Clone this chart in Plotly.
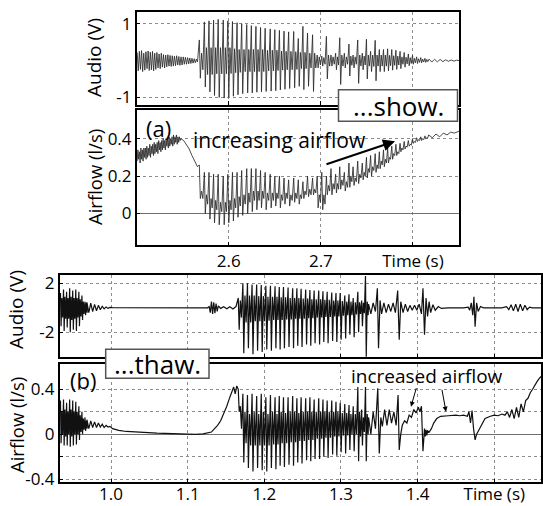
import numpy as np
import plotly.graph_objects as go

FONT = "Open Sans"
W, H = 543, 506

# ---------------- Panel (a): "...show." ----------------
a_time_range = [2.5, 2.85]
a_xtick_vals = [2.6, 2.7, 2.8]
a_xtick_text = ["2.6", "2.7", "Time (s)"]

# glottal pulse instants (s)
a_pulse_t = [2.568, 2.5735, 2.5785, 2.5835, 2.5885, 2.594, 2.599, 2.604, 2.609, 2.614,
             2.6195, 2.6245, 2.6295, 2.6345, 2.6395, 2.645, 2.650, 2.655, 2.660, 2.665,
             2.6705, 2.6755, 2.6805, 2.6855, 2.691, 2.696, 2.701, 2.706, 2.711, 2.716,
             2.7205, 2.7255, 2.7305, 2.735, 2.740, 2.745, 2.7495, 2.754, 2.759, 2.7635,
             2.768, 2.7725, 2.777, 2.7815, 2.786, 2.7905, 2.795, 2.7995, 2.804, 2.8085, 2.813]

# audio (V): pre-voicing noise, per-pulse peaks, tail
a_audio_noise = [0.22, -0.28, 0.25, -0.24, 0.27, -0.3, 0.2, -0.26, 0.24, -0.22,
                 0.26, -0.27, 0.23, -0.25, 0.25, -0.28, 0.2, -0.24, 0.22, -0.2,
                 0.18, -0.22, 0.2, -0.18, 0.16, -0.2, 0.15, -0.17, 0.16, -0.15,
                 0.14, -0.16, 0.13, -0.15, 0.12, -0.14, 0.13, -0.12, 0.11, -0.13,
                 0.1, -0.12, 0.1, -0.1, 0.09, -0.1, 0.08, -0.09, 0.07, -0.08,
                 0.06, -0.07, 0.05, -0.06, 0.04, -0.04]
a_audio_noise_span = [2.5005, 2.566]
a_audio_hi = [0.56, 1.05, 1.08, 1.1, 1.12, 1.1, 1.08, 1.06, 1.03, 1.0,
              0.98, 0.95, 0.93, 0.9, 0.88, 0.86, 0.84, 0.82, 0.8, 0.78,
              0.79, 0.6, 0.93, 0.75, 0.7,
              0.15, 0.12, 0.66, 0.15, 0.2, 0.62, 0.2, 0.45, 0.15, 0.56,
              0.2, 0.58, 0.25, 0.55, 0.3, 0.3, 0.32, 0.3, 0.28, 0.25,
              0.22, 0.18, 0.14, 0.1, 0.08, 0.06]
a_audio_lo = [-0.48, -0.72, -0.85, -0.95, -1.0, -1.02, -1.0, -0.97, -0.93, -0.9,
              -0.88, -0.88, -0.86, -0.85, -0.84, -0.83, -0.82, -0.8, -0.78, -0.76,
              -0.74, -0.7, -0.79, -0.7, -0.84,
              -0.2, -0.15, -0.5, -0.15, -0.25, -0.65, -0.2, -0.42, -0.2, -0.62,
              -0.25, -0.5, -0.3, -0.55, -0.3, -0.3, -0.28, -0.26, -0.24, -0.22,
              -0.18, -0.14, -0.1, -0.08, -0.06, -0.05]
a_audio_r1 = [0.2, 0.35, 0.35, 0.35, 0.35, 0.35, 0.35, 0.32, 0.3, 0.3,
              0.3, 0.3, 0.3, 0.3, 0.28, 0.28, 0.28, 0.26, 0.25, 0.25,
              0.24, 0.22, 0.22, 0.2, 0.2,
              0.1, 0.08, 0.15, 0.1, 0.1, 0.15, 0.1, 0.12, 0.1, 0.15,
              0.12, 0.15, 0.15, 0.15, 0.15, 0.15, 0.14, 0.13, 0.12, 0.1,
              0.09, 0.08, 0.06, 0.05, 0.04, 0.03]
a_audio_r2 = [-0.25, -0.38, -0.38, -0.36, -0.36, -0.36, -0.35, -0.33, -0.32, -0.3,
              -0.3, -0.3, -0.3, -0.3, -0.28, -0.28, -0.27, -0.26, -0.25, -0.25,
              -0.24, -0.22, -0.22, -0.2, -0.2,
              -0.12, -0.1, -0.15, -0.1, -0.12, -0.15, -0.1, -0.13, -0.1, -0.15,
              -0.12, -0.15, -0.16, -0.15, -0.15, -0.15, -0.14, -0.13, -0.12, -0.1,
              -0.09, -0.08, -0.06, -0.05, -0.04, -0.03]
a_audio_tail_t = [2.8175, 2.8205, 2.8235, 2.8265, 2.8295, 2.8325, 2.8355, 2.8385, 2.8415, 2.8445, 2.8475, 2.85]
a_audio_tail_v = [0.04, -0.04, 0.035, -0.035, 0.03, -0.03, 0.02, -0.02, 0.015, -0.015, 0.01, 0.0]

# airflow (l/s)
a_flow_noise = [0.28, 0.34, 0.29, 0.33, 0.27, 0.35, 0.29, 0.34, 0.28, 0.35,
                0.30, 0.35, 0.29, 0.36, 0.30, 0.35, 0.31, 0.37, 0.30, 0.36,
                0.32, 0.37, 0.31, 0.38, 0.32, 0.37, 0.33, 0.38, 0.32, 0.39,
                0.34, 0.38, 0.33, 0.39, 0.34, 0.40, 0.35, 0.39, 0.34, 0.40,
                0.36, 0.40, 0.35, 0.41, 0.36, 0.40, 0.37, 0.41, 0.36, 0.42,
                0.37, 0.41, 0.38, 0.42, 0.37, 0.41, 0.38, 0.41, 0.39, 0.40]
a_flow_noise_span = [2.5005, 2.548]
a_flow_fall_t = [2.551, 2.554, 2.557, 2.560, 2.563, 2.566]
a_flow_fall_v = [0.39, 0.37, 0.345, 0.31, 0.28, 0.25]
a_flow_hi = [0.26, 0.22, 0.22, 0.21, 0.21, 0.2, 0.21, 0.22, 0.22, 0.23,
             0.24, 0.24, 0.24, 0.23, 0.22, 0.21, 0.2, 0.2, 0.19, 0.18,
             0.19, 0.18, 0.17, 0.2, 0.19,
             0.2, 0.22, 0.2, 0.24, 0.21, 0.25, 0.22, 0.27, 0.25, 0.28,
             0.27, 0.3, 0.31, 0.32, 0.33, 0.34, 0.35, 0.36, 0.37, 0.375,
             0.385, 0.39, 0.4, 0.405, 0.41, 0.415]
a_flow_lo = [0.08, 0.0, -0.03, -0.05, -0.06, -0.06, -0.05, -0.04, -0.02, -0.01,
             0.0, 0.01, 0.02, 0.03, 0.02, 0.03, 0.04, 0.03, 0.05, 0.04,
             0.06, 0.05, 0.08, 0.09, 0.1,
             0.03, 0.02, 0.1, 0.1, 0.11, 0.13, 0.12, 0.14, 0.15, 0.16,
             0.18, 0.19, 0.2, 0.22, 0.24, 0.25, 0.27, 0.29, 0.31, 0.33,
             0.345, 0.36, 0.375, 0.385, 0.39, 0.4]
a_flow_r1 = [0.12, 0.1, 0.08, 0.07, 0.06, 0.06, 0.07, 0.08, 0.09, 0.1,
             0.11, 0.12, 0.12, 0.12, 0.11, 0.11, 0.11, 0.1, 0.11, 0.1,
             0.11, 0.1, 0.12, 0.13, 0.13,
             0.1, 0.1, 0.15, 0.16, 0.16, 0.18, 0.17, 0.2, 0.19, 0.21,
             0.22, 0.24, 0.25, 0.26, 0.28, 0.29, 0.3, 0.32, 0.33, 0.35,
             0.36, 0.37, 0.385, 0.395, 0.4, 0.405]
a_flow_r2 = [0.08, 0.05, 0.03, 0.02, 0.01, 0.01, 0.02, 0.03, 0.04, 0.05,
             0.06, 0.07, 0.07, 0.08, 0.07, 0.07, 0.08, 0.07, 0.08, 0.07,
             0.08, 0.08, 0.1, 0.1, 0.11,
             0.06, 0.05, 0.12, 0.13, 0.13, 0.15, 0.14, 0.17, 0.17, 0.19,
             0.2, 0.22, 0.23, 0.24, 0.26, 0.27, 0.29, 0.31, 0.32, 0.34,
             0.355, 0.365, 0.38, 0.39, 0.395, 0.405]
a_flow_tail_t = [2.817, 2.821, 2.825, 2.829, 2.833, 2.837, 2.841, 2.845, 2.85]
a_flow_tail_v = [0.42, 0.405, 0.425, 0.41, 0.43, 0.42, 0.435, 0.43, 0.44]

# ---------------- Panel (b): "...thaw." ----------------
b_time_range = [0.933, 1.561]
b_xtick_vals = [1.0, 1.1, 1.2, 1.3, 1.4, 1.5]
b_xtick_text = ["1.0", "1.1", "1.2", "1.3", "1.4", "Time (s)"]

b_pre_pulse_t = [0.934, 0.938, 0.942, 0.946, 0.950, 0.954, 0.958, 0.962, 0.966]
b_audio_pre_hi = [1.2, 1.5, 1.3, 1.6, 1.4, 1.5, 1.3, 1.0, 0.5]
b_audio_pre_lo = [-1.5, -1.9, -1.6, -2.0, -1.8, -1.9, -1.5, -1.0, -0.6]
b_audio_pre_r1 = [0.8, 0.9, 0.8, 0.9, 0.8, 0.8, 0.7, 0.5, 0.4]
b_audio_pre_r2 = [-0.8, -0.9, -0.9, -1.0, -0.9, -0.8, -0.7, -0.5, -0.4]
b_flow_pre_hi = [0.3, 0.31, 0.28, 0.31, 0.3, 0.29, 0.25, 0.2, 0.15]
b_flow_pre_lo = [-0.08, -0.1, -0.1, -0.11, -0.1, -0.09, -0.05, 0.0, 0.03]
b_flow_pre_r1 = [0.2, 0.22, 0.2, 0.22, 0.2, 0.2, 0.17, 0.14, 0.12]
b_flow_pre_r2 = [0.0, -0.02, 0.0, -0.02, 0.0, 0.0, 0.02, 0.04, 0.05]

b_ring_span = [0.9685, 0.9985]
b_audio_ring = [0.45, -0.4, 0.38, -0.32, 0.28, -0.24, 0.2, -0.16, 0.12, -0.09, 0.07, -0.05, 0.03]
b_flow_ring = [0.13, 0.05, 0.12, 0.06, 0.11, 0.06, 0.1, 0.065, 0.09, 0.06, 0.08, 0.065, 0.07]

b_audio_gap_t = [1.002, 1.05, 1.1, 1.126, 1.128, 1.1295, 1.131, 1.1325, 1.134, 1.1355,
                 1.137, 1.1385, 1.140, 1.143, 1.147, 1.151, 1.155, 1.159, 1.163]
b_audio_gap_v = [0.02, 0.0, 0.0, 0.0, 0.1, -0.4, 0.5, -0.5, 0.45, -0.45,
                 0.35, -0.3, 0.15, -0.05, 0.08, -0.08, 0.08, -0.1, 0.1]
b_flow_gap_t = [1.002, 1.01, 1.02, 1.03, 1.04, 1.05, 1.06, 1.07, 1.08, 1.09, 1.1, 1.11, 1.12, 1.127,
                1.131, 1.135, 1.139, 1.143, 1.147, 1.151, 1.155, 1.158, 1.160, 1.162, 1.164]
b_flow_gap_v = [0.05, 0.035, 0.025, 0.02, 0.015, 0.012, 0.01, 0.008, 0.005, 0.0, -0.002, 0.0, 0.003, 0.01,
                0.02, 0.05, 0.08, 0.12, 0.18, 0.25, 0.33, 0.39, 0.42, 0.36, 0.43]

b_pulse_t = [1.166, 1.172, 1.178, 1.184, 1.190, 1.196, 1.202, 1.208, 1.214, 1.2195,
             1.225, 1.231, 1.237, 1.2425, 1.248, 1.254, 1.2595, 1.265, 1.271, 1.2765,
             1.282, 1.288, 1.2935, 1.299, 1.305, 1.3105, 1.316, 1.322, 1.327, 1.332]
b_audio_hi = [0.8, 2.0, 2.0, 1.9, 1.9, 1.85, 1.8, 1.8, 1.75, 1.7,
              1.7, 1.65, 1.6, 1.6, 1.55, 1.5, 1.45, 1.4, 1.4, 1.35,
              1.3, 1.25, 1.2, 1.2, 1.0, 1.1, 0.8, 1.3, 0.6, 2.6]
b_audio_lo = [-1.8, -3.7, -3.3, -3.8, -3.5, -3.6, -3.4, -3.5, -3.3, -3.4,
              -3.3, -3.2, -3.3, -3.1, -3.2, -3.0, -3.1, -2.9, -3.0, -2.8,
              -2.9, -2.7, -2.8, -2.6, -2.5, -2.2, -2.4, -2.0, -1.5, -4.0]
b_audio_r1 = [0.6, 1.0, 1.0, 1.0, 0.95, 0.95, 0.9, 0.9, 0.9, 0.85,
              0.85, 0.8, 0.8, 0.8, 0.75, 0.75, 0.7, 0.7, 0.7, 0.65,
              0.65, 0.6, 0.6, 0.55, 0.5, 0.5, 0.45, 0.45, 0.4, 0.5]
b_audio_r2 = [-0.8, -1.2, -1.2, -1.1, -1.1, -1.1, -1.05, -1.0, -1.0, -1.0,
              -0.95, -0.95, -0.9, -0.9, -0.9, -0.85, -0.85, -0.8, -0.8, -0.75,
              -0.75, -0.7, -0.7, -0.65, -0.6, -0.6, -0.55, -0.5, -0.45, -0.6]
b_flow_hi = [0.40, 0.36, 0.35, 0.36, 0.34, 0.36, 0.33, 0.35, 0.33, 0.34,
             0.33, 0.33, 0.34, 0.32, 0.33, 0.32, 0.33, 0.31, 0.32, 0.31,
             0.3, 0.3, 0.29, 0.28, 0.27, 0.26, 0.25, 0.42, 0.22, 0.42]
b_flow_lo = [0.2, -0.25, -0.3, -0.33, -0.3, -0.32, -0.33, -0.3, -0.31, -0.28,
             -0.29, -0.27, -0.28, -0.25, -0.26, -0.23, -0.24, -0.22, -0.22, -0.2,
             -0.21, -0.18, -0.19, -0.16, -0.17, -0.14, -0.15, -0.24, -0.1, -0.24]
b_flow_r1 = [0.25, 0.2, 0.18, 0.2, 0.18, 0.2, 0.18, 0.2, 0.18, 0.2,
             0.19, 0.2, 0.2, 0.19, 0.2, 0.2, 0.2, 0.2, 0.2, 0.2,
             0.2, 0.2, 0.2, 0.19, 0.19, 0.18, 0.18, 0.2, 0.15, 0.18]
b_flow_r2 = [0.05, -0.08, -0.1, -0.1, -0.1, -0.1, -0.1, -0.09, -0.09, -0.08,
             -0.08, -0.07, -0.07, -0.06, -0.06, -0.05, -0.05, -0.04, -0.04, -0.03,
             -0.03, -0.02, -0.02, -0.01, -0.01, 0.0, 0.0, -0.02, 0.02, 0.0]

b_audio_tail_t = [1.336, 1.339, 1.342, 1.345, 1.3475, 1.349, 1.351, 1.353, 1.356, 1.359,
                  1.362, 1.365, 1.368, 1.371, 1.374, 1.376, 1.378, 1.381, 1.384, 1.387,
                  1.390, 1.393, 1.396, 1.399, 1.402, 1.405, 1.407, 1.409, 1.411, 1.413,
                  1.415, 1.417, 1.420, 1.423, 1.427, 1.431, 1.44, 1.46, 1.466, 1.468,
                  1.470, 1.472, 1.4735, 1.475, 1.477, 1.479, 1.482, 1.486, 1.51, 1.516,
                  1.519, 1.522, 1.525, 1.528, 1.531, 1.534, 1.537, 1.540, 1.543, 1.546,
                  1.55, 1.562]
b_audio_tail_v = [0.3, -0.5, 0.4, -0.3, 1.6, -3.3, 0.6, -0.5, 0.4, -0.4,
                  0.3, -0.3, 0.4, -0.4, 1.4, -2.6, 0.5, -0.4, 0.3, -0.3,
                  0.2, -0.2, 0.2, -0.2, 0.3, -0.5, 1.6, -2.2, 0.8, -0.7,
                  0.5, -0.4, 0.25, -0.2, 0.1, -0.05, 0.0, 0.0, 0.05, -0.2,
                  0.4, -0.6, 0.9, -1.55, 0.4, -0.3, 0.1, 0.0, 0.0, 0.1,
                  -0.15, 0.25, -0.25, 0.3, -0.3, 0.3, -0.25, 0.2, -0.15, 0.05,
                  0.0, 0.0]
b_flow_tail_t = [1.336, 1.339, 1.342, 1.345, 1.348, 1.350, 1.352, 1.354, 1.357, 1.360,
                 1.363, 1.366, 1.369, 1.372, 1.3745, 1.376, 1.378, 1.380, 1.383, 1.386,
                 1.389, 1.392, 1.395, 1.398, 1.401, 1.403, 1.405, 1.407, 1.409, 1.410,
                 1.411, 1.412, 1.413, 1.415, 1.418, 1.421, 1.425, 1.43, 1.44, 1.45,
                 1.455, 1.46, 1.465, 1.467, 1.469, 1.471, 1.473, 1.475, 1.477, 1.48,
                 1.484, 1.488, 1.495, 1.5, 1.505, 1.51, 1.514, 1.517, 1.52, 1.523,
                 1.526, 1.529, 1.532, 1.535, 1.538, 1.541, 1.544, 1.547, 1.55, 1.553,
                 1.556, 1.559, 1.562]
b_flow_tail_v = [0.15, 0.0, 0.2, 0.05, 0.41, -0.17, 0.15, 0.07, 0.22, 0.08,
                 0.22, 0.1, 0.2, 0.08, 0.35, -0.14, 0.0, 0.08, 0.12, 0.1,
                 0.17, 0.15, 0.22, 0.19, 0.24, 0.2, 0.25, -0.15, 0.05, -0.02,
                 0.04, -0.01, 0.03, 0.02, 0.05, 0.1, 0.14, 0.16, 0.165, 0.17,
                 0.165, 0.17, 0.16, 0.2, 0.1, 0.21, 0.05, -0.05, 0.0, 0.04,
                 0.1, 0.14, 0.16, 0.17, 0.165, 0.18, 0.17, 0.2, 0.15, 0.22,
                 0.14, 0.24, 0.15, 0.27, 0.2, 0.3, 0.32, 0.37, 0.4, 0.44,
                 0.47, 0.5, 0.52]


# ---------------- helpers ----------------
def pulses(t, hi, lo, r1, r2):
    xs, ys = [], []
    for i in range(len(t)):
        p = t[i + 1] - t[i] if i + 1 < len(t) else t[i] - t[i - 1]
        xs += [t[i], t[i] + 0.2 * p, t[i] + 0.45 * p, t[i] + 0.7 * p]
        ys += [hi[i], lo[i], r1[i], r2[i]]
    return xs, ys


def samples(span, vals):
    return list(np.linspace(span[0], span[1], len(vals))), list(vals)


def join(*parts):
    xs, ys = [], []
    for px_, py_ in parts:
        xs += list(px_)
        ys += list(py_)
    return xs, ys


a_audio_x, a_audio_y = join(samples(a_audio_noise_span, a_audio_noise),
                            pulses(a_pulse_t, a_audio_hi, a_audio_lo, a_audio_r1, a_audio_r2),
                            (a_audio_tail_t, a_audio_tail_v))
a_flow_x, a_flow_y = join(samples(a_flow_noise_span, a_flow_noise),
                          (a_flow_fall_t, a_flow_fall_v),
                          pulses(a_pulse_t, a_flow_hi, a_flow_lo, a_flow_r1, a_flow_r2),
                          (a_flow_tail_t, a_flow_tail_v))
b_audio_x, b_audio_y = join(pulses(b_pre_pulse_t, b_audio_pre_hi, b_audio_pre_lo, b_audio_pre_r1, b_audio_pre_r2),
                            samples(b_ring_span, b_audio_ring),
                            (b_audio_gap_t, b_audio_gap_v),
                            pulses(b_pulse_t, b_audio_hi, b_audio_lo, b_audio_r1, b_audio_r2),
                            (b_audio_tail_t, b_audio_tail_v))
b_flow_x, b_flow_y = join(pulses(b_pre_pulse_t, b_flow_pre_hi, b_flow_pre_lo, b_flow_pre_r1, b_flow_pre_r2),
                          samples(b_ring_span, b_flow_ring),
                          (b_flow_gap_t, b_flow_gap_v),
                          pulses(b_pulse_t, b_flow_hi, b_flow_lo, b_flow_r1, b_flow_r2),
                          (b_flow_tail_t, b_flow_tail_v))


def PX(x):
    return x / W


def PY(y):
    return 1 - y / H


fig = go.Figure()
line_a = dict(color="#2a2a2a", width=0.85)
line_b = dict(color="#111111", width=1.2)
fig.add_trace(go.Scatter(x=a_audio_x, y=a_audio_y, mode="lines", line=line_a, xaxis="x", yaxis="y"))
fig.add_trace(go.Scatter(x=a_flow_x, y=a_flow_y, mode="lines", line=line_a, xaxis="x2", yaxis="y2"))
fig.add_trace(go.Scatter(x=b_audio_x, y=b_audio_y, mode="lines", line=line_b, xaxis="x3", yaxis="y3"))
fig.add_trace(go.Scatter(x=b_flow_x, y=b_flow_y, mode="lines", line=line_b, xaxis="x4", yaxis="y4"))

tickfont = dict(family=FONT, size=17, color="black")
base = dict(showline=True, linecolor="black", linewidth=1.5, mirror=True,
            showgrid=True, gridcolor="#8c8c8c", griddash="dot", gridwidth=1,
            zeroline=False, ticks="inside", ticklen=4, tickcolor="black",
            tickfont=tickfont, fixedrange=True, automargin=False)

xa = [136.7 / W, 459 / W]
xb = [59.7 / W, 541 / W]

fig.update_layout(
    width=W, height=H, margin=dict(l=0, r=0, t=0, b=0, pad=0, autoexpand=False),
    paper_bgcolor="white", plot_bgcolor="white", showlegend=False,
    font=dict(family=FONT, color="black"),
    xaxis=dict(base, domain=xa, range=a_time_range, anchor="y", tickvals=a_xtick_vals, showticklabels=False),
    yaxis=dict(base, domain=[PY(104.7), PY(12)], range=[-1.2, 1.32], anchor="x",
               tickvals=[-1, 1], ticktext=["-1", "1"]),
    xaxis2=dict(base, domain=xa, range=a_time_range, anchor="y2", tickvals=a_xtick_vals, ticktext=a_xtick_text),
    yaxis2=dict(base, domain=[PY(245.3), PY(109.7)], range=[-0.17, 0.555], anchor="x2",
                tickvals=[0, 0.2, 0.4], ticktext=["0", "0.2", "0.4"],
                zeroline=True, zerolinecolor="#707070", zerolinewidth=1),
    xaxis3=dict(base, domain=xb, range=b_time_range, anchor="y3", tickvals=b_xtick_vals, showticklabels=False),
    yaxis3=dict(base, domain=[PY(357.3), PY(274.7)], range=[-4.04, 2.7], anchor="x3",
                tickvals=[-2, 2], ticktext=["-2", "2"]),
    xaxis4=dict(base, domain=xb, range=b_time_range, anchor="y4", tickvals=b_xtick_vals, ticktext=b_xtick_text),
    yaxis4=dict(base, domain=[PY(482.3), PY(364)], range=[-0.427, 0.625], anchor="x4",
                tickvals=[-0.4, -0.2, 0, 0.2, 0.4], ticktext=["-0.4", "", "0", "", "0.4"],
                zeroline=True, zerolinecolor="#707070", zerolinewidth=1),
)

# pull the bottom time labels up a little so they sit inside the page like the reference
try:
    fig.layout.xaxis4.ticklabelstandoff = -4
except Exception:
    fig.layout.xaxis4.tickfont.size = 16

# label boxes
shapes = [
    dict(type="rect", xref="paper", yref="paper", x0=PX(338.5), x1=PX(457.5), y0=PY(121.3), y1=PY(89.7),
         fillcolor="white", line=dict(color="#555555", width=1.5), layer="above"),
    dict(type="rect", xref="paper", yref="paper", x0=PX(105.7), x1=PX(209), y0=PY(378.3), y1=PY(349.3),
         fillcolor="white", line=dict(color="#555555", width=1.5), layer="above"),
]
fig.update_layout(shapes=shapes)


def txt(s, x, y, size, angle=0):
    return dict(text=s, xref="paper", yref="paper", x=PX(x), y=PY(y), showarrow=False,
                xanchor="center", yanchor="middle", textangle=angle,
                font=dict(family=FONT, size=size, color="black"))


def arrow(x0, y0, x1, y1, width, size):
    # head at (x1, y1), tail at (x0, y0); offsets in screen pixels
    return dict(text="", xref="paper", yref="paper", axref="pixel", ayref="pixel",
                x=PX(x1), y=PY(y1), ax=x0 - x1, ay=y0 - y1, showarrow=True,
                arrowhead=2, arrowsize=size, arrowwidth=width, arrowcolor="black",
                standoff=0, startstandoff=0)


annotations = [
    txt("Audio (V)", 94, 58, 19, -90),
    txt("Airflow (l/s)", 94, 177, 18.5, -90),
    txt("Audio (V)", 16, 310, 19, -90),
    txt("Airflow (l/s)", 16, 425, 18.5, -90),
    txt("...show.", 398, 105.5, 26),
    txt("...thaw.", 157.3, 363.8, 26),
    txt("(a)", 158, 128, 22),
    txt("(b)", 83, 380, 22),
    txt("increasing airflow", 279, 140, 21),
    txt("increased airflow", 426.5, 376, 19),
    arrow(325, 164.7, 395, 141.3, 2, 1.2),
    arrow(416.7, 386.7, 411, 406.7, 1, 1),
    arrow(441.7, 388.3, 446, 411.7, 1, 1),
]
fig.update_layout(annotations=annotations)

fig.write_html("out.html", config={"displayModeBar": False},
               post_script="document.body.style.margin='0px';")
